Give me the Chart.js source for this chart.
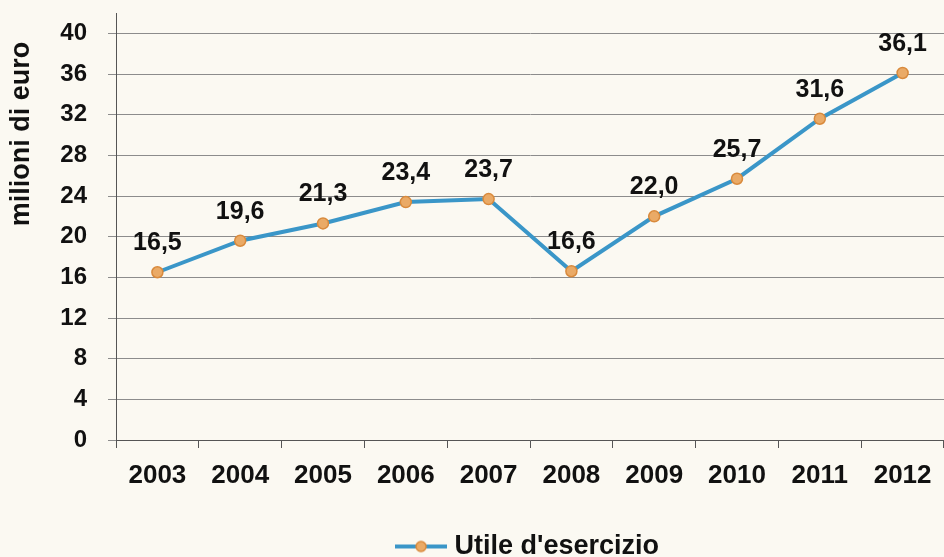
<!DOCTYPE html>
<html>
<head>
<meta charset="utf-8">
<script src="https://cdn.jsdelivr.net/npm/chart.js@4"></script>
<style>
  html, body { margin: 0; padding: 0; background: #fbf9f2; }
  canvas { display: block; }
</style>
</head>
<body>
<canvas id="utileChart" width="944" height="557"></canvas>
<script>
"use strict";

var years = ['2003', '2004', '2005', '2006', '2007', '2008', '2009', '2010', '2011', '2012'];
var utile = [16.5, 19.6, 21.3, 23.4, 23.7, 16.6, 22.0, 25.7, 31.6, 36.1];
var yTicks = [0, 4, 8, 12, 16, 20, 24, 28, 32, 36, 40];
var yTitle = 'milioni di euro';

var lineBlue = '#3a96c8';
var dotOrange = '#eaaa66';
var dotBorder = '#d98a3c';
var font = 'Liberation Sans, Arial, sans-serif';

// legend marker: line with a dot in the middle
var marker = document.createElement('canvas');
marker.width = 52;
marker.height = 14;
var m = marker.getContext('2d');
m.strokeStyle = lineBlue;
m.lineWidth = 4;
m.beginPath();
m.moveTo(0, 7);
m.lineTo(52, 7);
m.stroke();
m.beginPath();
m.arc(26, 7, 5, 0, Math.PI * 2);
m.fillStyle = dotOrange;
m.fill();
m.lineWidth = 1.5;
m.strokeStyle = dotBorder;
m.stroke();

var valueLabels = {
    id: 'valueLabels',
    afterDatasetsDraw: function (chart) {
        var ctx = chart.ctx;
        var meta = chart.getDatasetMeta(0);
        ctx.save();
        ctx.font = 'bold 25px ' + font;
        ctx.fillStyle = '#111';
        ctx.textAlign = 'center';
        ctx.textBaseline = 'middle';
        meta.data.forEach(function (pt, i) {
            var txt = utile[i].toFixed(1).replace('.', ',');
            ctx.fillText(txt, pt.x, pt.y - 29);
        });
        ctx.restore();
    }
};

// y title sits high, near the top of the axis
var sideTitle = {
    id: 'sideTitle',
    afterDraw: function (chart) {
        var ctx = chart.ctx;
        ctx.save();
        ctx.translate(22, 134);
        ctx.rotate(-Math.PI / 2);
        ctx.font = 'bold 27px ' + font;
        ctx.fillStyle = '#111';
        ctx.textAlign = 'center';
        ctx.textBaseline = 'middle';
        ctx.fillText(yTitle, 0, 0);
        ctx.restore();
    }
};

var ctx = document.getElementById('utileChart').getContext('2d');
new Chart(ctx, {
    type: 'line',
    data: {
        labels: years,
        datasets: [{
            label: "Utile d'esercizio",
            data: utile,
            borderColor: lineBlue,
            borderWidth: 4,
            backgroundColor: dotOrange,
            pointBackgroundColor: dotOrange,
            pointBorderColor: dotBorder,
            pointBorderWidth: 1.5,
            pointRadius: 5.5,
            tension: 0
        }]
    },
    plugins: [valueLabels, sideTitle],
    options: {
        responsive: false,
        animation: false,
        layout: {
            autoPadding: false,
            padding: { top: 13, left: 0, right: 0, bottom: -13 }
        },
        scales: {
            x: {
                offset: true,
                afterFit: function (scale) {
                    scale.paddingLeft = 0;
                    scale.paddingRight = 0;
                    scale.height = 93;
                },
                grid: {
                    offset: true,
                    drawOnChartArea: false,
                    drawTicks: true,
                    tickLength: 8,
                    color: '#555'
                },
                border: { color: '#555', width: 1 },
                ticks: {
                    color: '#111',
                    padding: 12,
                    font: { family: font, size: 26, weight: 'bold' }
                }
            },
            y: {
                min: 0,
                max: 42,
                afterBuildTicks: function (axis) {
                    axis.ticks = yTicks.map(function (v) { return { value: v }; });
                },
                afterFit: function (scale) {
                    scale.width = 116;
                    scale.paddingTop = 0;
                    scale.paddingBottom = 0;
                },
                grid: {
                    color: '#8c8c8c',
                    lineWidth: 1,
                    tickLength: 8
                },
                border: { color: '#555', width: 1 },
                ticks: {
                    color: '#111',
                    padding: 21,
                    font: { family: font, size: 24, weight: 'bold' }
                }
            }
        },
        plugins: {
            legend: {
                position: 'bottom',
                fullSize: false,
                labels: {
                    usePointStyle: true,
                    pointStyleWidth: 40,
                    padding: 0,
                    color: '#111',
                    font: { family: font, size: 27, weight: 'bold' },
                    generateLabels: function (chart) {
                        return [{
                            text: "Utile d'esercizio",
                            pointStyle: marker,
                            fillStyle: dotOrange,
                            strokeStyle: lineBlue,
                            lineWidth: 0,
                            fontColor: '#111',
                            datasetIndex: 0
                        }];
                    }
                }
            },
            tooltip: { enabled: false }
        }
    }
});
</script>
</body>
</html>
